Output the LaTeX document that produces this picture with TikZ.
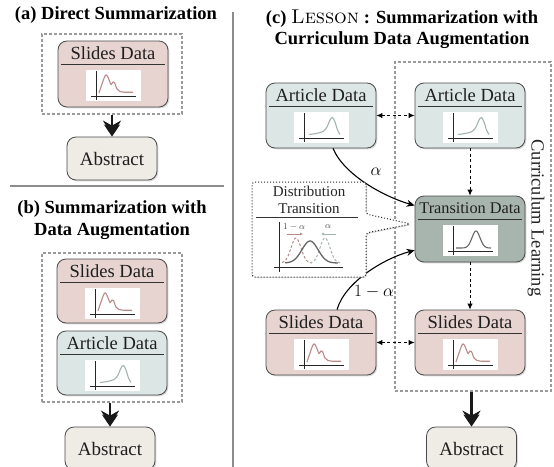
\documentclass[tikz,border=0pt]{standalone}
\usepackage{fontspec}
\usetikzlibrary{arrows.meta,shadows}
\newfontfamily\tnr{Liberation Serif}
\definecolor{slidefill}{HTML}{E7D3CF}
\definecolor{articlefill}{HTML}{DCE7E5}
\definecolor{transfill}{HTML}{A8B5AF}
\definecolor{absfill}{HTML}{EFEBE5}
\definecolor{boxborder}{HTML}{4A4A4A}
\definecolor{groupgray}{HTML}{9A9A9A}
\definecolor{slidecurve}{HTML}{B98A88}
\definecolor{articlecurve}{HTML}{A3B3AE}
\definecolor{transcurve}{HTML}{666666}
\definecolor{sepgray}{HTML}{8C8C8C}
\tikzset{
  dbox/.style={draw=boxborder, line width=0.8pt, rounded corners=9pt, minimum width=110pt, inner sep=0pt,
    drop shadow={shadow xshift=1.3pt, shadow yshift=-1.3pt, opacity=0.3}},
  boxtitle/.style={font=\tnr\fontsize{18.5}{20}\selectfont, inner sep=0pt, text=black!88},
  headline/.style={line width=0.8pt, draw=black!80},
  plotbg/.style={fill=white, minimum width=55pt, minimum height=31pt, inner sep=0pt},
  axisline/.style={line width=0.9pt, draw=black!85},
  curveline/.style={line width=1.1pt},
  groupbox/.style={draw=groupgray, dashed, dash pattern=on 3pt off 2pt, line width=1.2pt, inner sep=0pt},
  titletext/.style={font=\tnr\bfseries\fontsize{18.5}{21.5}\selectfont, inner sep=0pt},
  absbox/.style={draw=boxborder, line width=0.8pt, rounded corners=9pt, fill=absfill, minimum width=90pt,
    minimum height=43pt, font=\tnr\fontsize{19}{21}\selectfont, inner sep=0pt, text=black!88,
    drop shadow={shadow xshift=1.3pt, shadow yshift=-1.3pt, opacity=0.3}},
  sepline/.style={draw=sepgray, line width=1.8pt},
  distbox/.style={draw=black!85, dotted, line width=1pt, fill=white, rounded corners=3pt,
    drop shadow={shadow xshift=1pt, shadow yshift=-1pt, opacity=0.3}},
  curvarr/.style={line width=1.1pt, -{Stealth[length=8pt,width=7pt]}},
  dasharr/.style={line width=1pt, dash pattern=on 3pt off 2.5pt},
  fatarr/.style={line width=2.6pt, draw=black!90, -{Stealth[length=15pt,width=18pt,inset=5pt,sep=-11pt]Stealth[length=12pt,width=16pt,inset=4pt]}},
  mathlabel/.style={font=\fontsize{17}{19}\selectfont, inner sep=0pt},
  smallmath/.style={font=\fontsize{9}{10}\selectfont, inner sep=0pt, text=black!70},
  cltext/.style={font=\tnr\fontsize{18.5}{20}\selectfont, inner sep=0pt, text=black!85},
}
\newcommand\SlideCurve{\draw[curveline, slidecurve] plot[smooth, tension=0.55] coordinates {(3,-3) (6,-12) (9,-20) (11,-20.5) (13.5,-15) (15,-11.5) (17,-14) (18.5,-13.5) (21,-7) (24,-4.5) (28,-3.8) (37,-3.8)};}
\newcommand\ArticleCurve{\draw[curveline, articlecurve] plot[smooth, tension=0.55] coordinates {(5,-3.5) (12,-4.5) (19,-6.5) (23,-11) (26,-18) (28.5,-20.5) (31,-16) (33.5,-8) (36,-3.5)};}
\newcommand\TransCurve{\draw[curveline, transcurve] plot[domain=3:38, samples=50, smooth] (\x, {-3-17*exp(-((\x-23)^2)/32)});}
\newcommand\DBox[7]{%
  \node[dbox, fill=#5, minimum height=#4pt] (#1) at (#2, {#3+#4/2}) {};
  \node[boxtitle] (#1-t) at (#2, {#3+12}) {#6};
  \draw[headline] ({#2-52}, {#3+23}) -- ({#2+52}, {#3+23});
  \node[plotbg] (#1-p) at ({#2+0.5}, {#3+44.5}) {};
  \draw[axisline] ({#2-17}, {#3+30}) -- ({#2-17}, {#3+59});
  \draw[axisline] ({#2-22}, {#3+55}) -- ({#2+23}, {#3+55});
  \begin{scope}[shift={({#2-17},{#3+55})}] #7 \end{scope}
}
\begin{document}
\begin{tikzpicture}[x=1pt, y=-1pt, >={Latex[length=6pt,width=5.5pt]}]
\useasboundingbox (0,0) rectangle (554,466);
\clip (0,0) rectangle (554,466);
\fill[white] (0,0) rectangle (554,466);

% separators
\draw[sepline] (10,186) -- (224,186);
\draw[sepline] (233,12) -- (233,470);

% (a)
\node[titletext] (tA) at (116,15) {(a) Direct Summarization};
\node[groupbox, minimum width=140pt, minimum height=80pt] (ga) at (112,74) {};
\DBox{sa}{113}{41}{66}{slidefill}{Slides Data}{\SlideCurve}
\node[absbox] (absa) at (112,158.5) {Abstract};
\draw[fatarr] (ga.south) -- (absa.north);

% (b)
\node[titletext, align=center] (tB) at (112,220) {(b) Summarization with\\Data Augmentation};
\node[groupbox, minimum width=140pt, minimum height=149pt] (gb) at (112,327.5) {};
\DBox{sb}{112}{259}{64}{slidefill}{Slides Data}{\SlideCurve}
\DBox{ab}{112}{331}{64}{articlefill}{Article Data}{\ArticleCurve}
\node[absbox] (absb) at (110,448.5) {Abstract};
\draw[fatarr] (absb.north |- gb.south) -- (absb.north);

% (c)
\node[titletext, align=center] (tC) at (402,29) {(c) {\rmfamily\mdseries\fontsize{20}{21.5}\selectfont\textsc{Lesson}} : Summarization with\\Curriculum Data Augmentation};
\node[groupbox, minimum width=156pt, minimum height=329pt] (gc) at (473,226.5) {};
\node[cltext, rotate=-90] (cl) at (536,218) {Curriculum Learning};
\DBox{al}{321}{83}{65}{articlefill}{Article Data}{\ArticleCurve}
\DBox{ar}{470}{83}{65}{articlefill}{Article Data}{\ArticleCurve}
\DBox{tr}{470}{196}{66}{transfill}{{\fontsize{16.3}{18}\selectfont Transition Data}}{\TransCurve}
\DBox{sl}{321}{310}{65}{slidefill}{Slides Data}{\SlideCurve}
\DBox{sr}{470}{310}{65}{slidefill}{Slides Data}{\SlideCurve}
\node[absbox] (absc) at (471.5,448.5) {Abstract};
\draw[fatarr] (absc.north |- gc.south) -- (absc.north);

\draw[dasharr, <->] (al.east) -- (ar.west);
\draw[dasharr, <->] (sl.east) -- (sr.west);
\draw[dasharr, ->] (ar.south) -- (tr.north);
\draw[dasharr, ->] (tr.south) -- (sr.north);

\draw[curvarr] (al.-70) .. controls +(12,28) and +(-28,-8) .. (tr.157);
\node[mathlabel] (alab) at (376,172) {$\alpha$};
\draw[curvarr] (sl.64) .. controls +(8,-28) and +(-30,8) .. (tr.201);
\node[mathlabel] (omalab) at (374,292) {$1-\alpha$};

% distribution transition callout
\coordinate (ctip) at (411,224);
\draw[distbox] (252,182) -- (366,182) -- (366,214) -- (ctip) -- (366,233) -- (366,277) -- (252,277) -- cycle;
\node[align=center, font=\tnr\fontsize{15}{17}\selectfont, inner sep=0pt, text=black!85] (dt) at (309,200) {Distribution\\Transition};
\draw[headline] (256,217) -- (358,217);
\draw[axisline] (279,222) -- (279,272);
\draw[axisline] (274,267) -- (343,267);
\draw[slidecurve, line width=1pt, dash pattern=on 2.5pt off 2pt] plot[domain=282:312, samples=40, smooth] (\x, {263-25*exp(-((\x-296)^2)/50)});
\draw[articlecurve, line width=1pt, dash pattern=on 2.5pt off 2pt] plot[domain=310:340, samples=40, smooth] (\x, {263-25*exp(-((\x-325)^2)/50)});
\draw[transcurve, line width=1.3pt] plot[domain=285:338, samples=50, smooth] (\x, {263-22*exp(-((\x-310)^2)/128)});
\node[smallmath] (sm1) at (294,227) {$1-\alpha$};
\node[smallmath] (sm2) at (328,227) {$\alpha$};
\draw[slidecurve, line width=0.8pt, -{Latex[length=3pt,width=3pt]}] (287,234) -- (303,234);
\draw[articlecurve, line width=0.8pt, -{Latex[length=3pt,width=3pt]}] (336,234) -- (321,234);
\end{tikzpicture}
\end{document}
